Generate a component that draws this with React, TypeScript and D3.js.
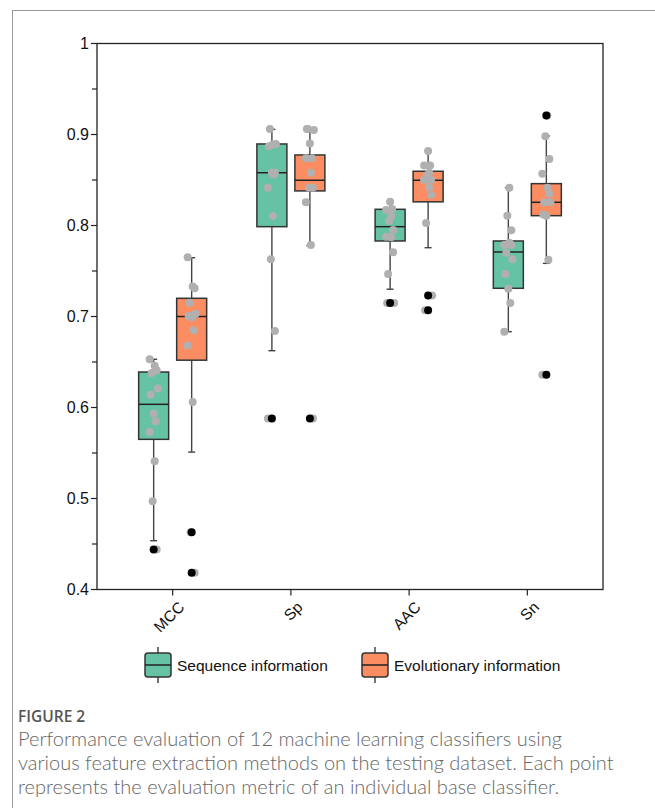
import React from "react";
import * as d3 from "d3";

// metrics on the x axis
const categories = ["MCC", "Sp", "AAC", "Sn"];
const seriesNames = ["Sequence information", "Evolutionary information"];
const seriesColors = ["#66c2a5", "#fc8d62"];
const yTicks = [0.4, 0.5, 0.6, 0.7, 0.8, 0.9, 1];
const yMinorTicks = [0.45, 0.55, 0.65, 0.75, 0.85, 0.95];

// individual base classifier scores (12 each), [category][series]
const seqPoints = [
  [0.653, 0.646, 0.641, 0.638, 0.621, 0.614, 0.593, 0.585, 0.573, 0.541, 0.497, 0.444],
  [0.906, 0.8896, 0.887, 0.858, 0.856, 0.8415, 0.8104, 0.763, 0.684, 0.588, 0.889, 0.858],
  [0.826, 0.818, 0.817, 0.8104, 0.805, 0.795, 0.7877, 0.787, 0.7705, 0.7467, 0.7148, 0.7148],
  [0.8415, 0.8108, 0.7947, 0.7786, 0.781, 0.7786, 0.77, 0.763, 0.7467, 0.7306, 0.7148, 0.6833],
];
const evoPoints = [
  [0.765, 0.733, 0.731, 0.715, 0.703, 0.7005, 0.699, 0.685, 0.668, 0.606, 0.463, 0.4185],
  [0.906, 0.905, 0.906, 0.89, 0.874, 0.874, 0.858, 0.8415, 0.8415, 0.8255, 0.7786, 0.588],
  [0.882, 0.866, 0.866, 0.858, 0.855, 0.85, 0.85, 0.842, 0.8335, 0.8027, 0.723, 0.707],
  [0.921, 0.898, 0.873, 0.857, 0.8415, 0.835, 0.8255, 0.8255, 0.812, 0.8108, 0.7625, 0.636],
];
// box stats: [whisker low, q1, median, q3, whisker high]
const seqBoxes = [
  [0.4536, 0.565, 0.6035, 0.639, 0.653],
  [0.6624, 0.7987, 0.858, 0.8896, 0.9057],
  [0.73, 0.783, 0.7987, 0.8178, 0.826],
  [0.6833, 0.731, 0.7709, 0.783, 0.8415],
];
const evoBoxes = [
  [0.551, 0.652, 0.7, 0.72, 0.7646],
  [0.778, 0.838, 0.8497, 0.8775, 0.906],
  [0.7756, 0.826, 0.8497, 0.8596, 0.8819],
  [0.7584, 0.8108, 0.8255, 0.846, 0.8984],
];
const seqOutliers = [[0.444], [0.588], [0.7148], []];
const evoOutliers = [[0.463, 0.4185], [0.588], [0.723, 0.707], [0.921, 0.636]];

const captionTitle = "FIGURE 2";
const captionLines = [
  "Performance evaluation of 12 machine learning classifiers using",
  "various feature extraction methods on the testing dataset. Each point",
  "represents the evaluation metric of an individual base classifier.",
];

const jit = [-4, 1, 3, -2, 4, -3, 0, 2, -4, 1, -1, 3];

const App = () => {
  const left = 97, right = 603, top = 43.5, bottom = 589.5;
  const y = d3.scaleLinear().domain([0.4, 1]).range([bottom, top]);
  const x = d3.scalePoint().domain(categories).range([left, right]).padding(0.64);
  const boxW = 30, off = 19;
  const font = "'Liberation Sans', Arial, sans-serif";

  const groups = [
    { pts: seqPoints, boxes: seqBoxes, outs: seqOutliers, dx: -off, color: seriesColors[0] },
    { pts: evoPoints, boxes: evoBoxes, outs: evoOutliers, dx: off, color: seriesColors[1] },
  ];

  return (
    <svg width={655} height={808} style={{ position: "absolute", left: 0, top: 0, background: "#fff" }}>
      {/* page frame */}
      <line x1={12} x2={655} y1={10.5} y2={10.5} stroke="#999" />
      <line x1={12.5} x2={12.5} y1={10} y2={808} stroke="#999" />

      {/* plot frame */}
      <rect x={left} y={top} width={right - left} height={bottom - top} fill="none" stroke="#222" strokeWidth={1.3} />

      {/* y axis */}
      {yTicks.map((t) => (
        <g key={t}>
          <line x1={left - 6} x2={left} y1={y(t)} y2={y(t)} stroke="#222" strokeWidth={1.2} />
          <text x={left - 8} y={y(t)} dy="0.36em" textAnchor="end" fontFamily={font} fontSize={16} fill="#111">
            {t === 1 ? "1" : t.toFixed(1)}
          </text>
        </g>
      ))}
      {yMinorTicks.map((t) => (
        <line key={t} x1={left - 5} x2={left} y1={y(t)} y2={y(t)} stroke="#222" strokeWidth={1.2} />
      ))}

      {/* x axis */}
      {categories.map((c) => (
        <g key={c}>
          <line x1={x(c)} x2={x(c)} y1={bottom} y2={bottom + 6} stroke="#222" strokeWidth={1.2} />
          <text
            transform={`translate(${x(c)! + 5},${bottom + 11}) rotate(-45)`}
            textAnchor="end"
            dy="0.7em"
            fontFamily={font}
            fontSize={15.5}
            fill="#111"
          >
            {c}
          </text>
        </g>
      ))}

      {/* boxes */}
      {groups.map((g, gi) =>
        categories.map((c, ci) => {
          const cx = x(c)! + g.dx;
          const [lo, q1, med, q3, hi] = g.boxes[ci];
          return (
            <g key={`${gi}-${c}`}>
              <line x1={cx} x2={cx} y1={y(hi)} y2={y(lo)} stroke="#444" strokeWidth={1.4} />
              <line x1={cx - 3.5} x2={cx + 3.5} y1={y(hi)} y2={y(hi)} stroke="#444" strokeWidth={1.4} />
              <line x1={cx - 3.5} x2={cx + 3.5} y1={y(lo)} y2={y(lo)} stroke="#444" strokeWidth={1.4} />
              <rect x={cx - boxW / 2} y={y(q3)} width={boxW} height={y(q1) - y(q3)} fill={g.color} stroke="#333" strokeWidth={1.5} />
              <line x1={cx - boxW / 2} x2={cx + boxW / 2} y1={y(med)} y2={y(med)} stroke="#222" strokeWidth={1.5} />
              {g.pts[ci].map((v, i) => (
                <circle key={i} cx={cx + jit[(i + ci * 3) % jit.length]} cy={y(v)} r={4} fill="#b0b0b0" />
              ))}
              {g.outs[ci].map((v, i) => (
                <circle key={`o${i}`} cx={cx} cy={y(v)} r={4} fill="#000" />
              ))}
            </g>
          );
        })
      )}

      {/* legend */}
      {seriesNames.map((s, i) => {
        const lx = [145, 362][i];
        const ly = 653;
        return (
          <g key={s}>
            <line x1={lx + 13} x2={lx + 13} y1={ly - 6} y2={ly + 30} stroke="#444" strokeWidth={1.5} />
            <rect x={lx} y={ly} width={26} height={24} rx={3} fill={seriesColors[i]} stroke="#333" strokeWidth={1.5} />
            <line x1={lx} x2={lx + 26} y1={ly + 12} y2={ly + 12} stroke="#222" strokeWidth={1.5} />
            <text x={lx + 32} y={ly + 12} dy="0.36em" fontFamily={font} fontSize={15.5} fill="#111">
              {s}
            </text>
          </g>
        );
      })}

      {/* caption */}
      <text x={18} y={722} fontFamily="'Open Sans', sans-serif" fontSize={15.5} fontWeight={600} fill="#555">
        {captionTitle}
      </text>
      {captionLines.map((l, i) => (
        <text key={i} x={18} y={746 + i * 24} fontFamily="Lato, sans-serif" fontSize={20} fontWeight={300} fill="#666">
          {l}
        </text>
      ))}
    </svg>
  );
};

export default App;
